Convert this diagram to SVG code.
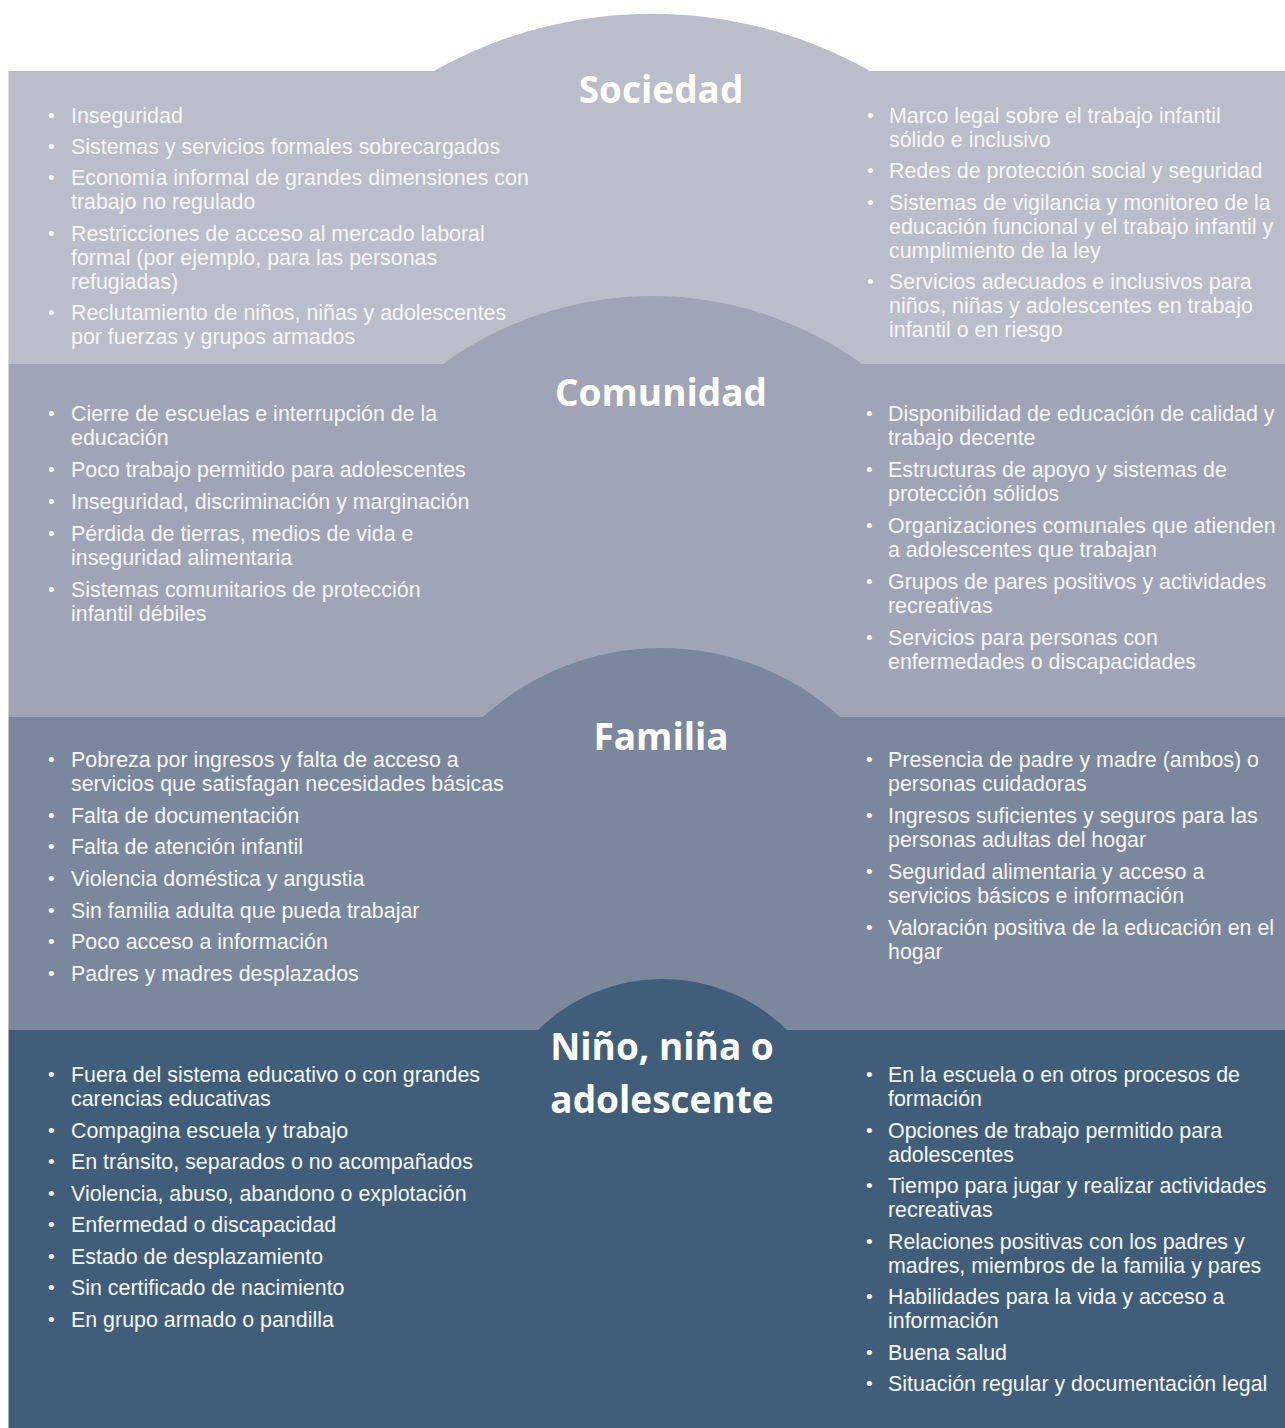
<svg xmlns="http://www.w3.org/2000/svg" width="1285" height="1428" viewBox="0 0 1285 1428">
<style>
.t{font-family:"Liberation Sans",Arial,Helvetica,sans-serif;font-size:21.4px;fill:#f6f7f9}
.b{font-family:"Liberation Sans",Arial,sans-serif;font-size:19px;fill:#f6f7f9}
.h{font-family:"Open Sans","Liberation Sans",sans-serif;font-weight:700;font-size:37px;fill:#ffffff;text-anchor:middle}
</style>
<rect width="1285" height="1428" fill="#ffffff"/>

<g id="sociedad">
<path d="M8.5,71 L434,71 A443.5,443.5 0 0 1 870,71 L1285,71 L1285,364 L8.5,364 Z" fill="#babdca"/>
<text class="h" x="661" y="103">Sociedad</text>
<g class="t">
<text x="71" y="123">Inseguridad</text>
<text x="71" y="154">Sistemas y servicios formales sobrecargados</text>
<text x="71" y="185">Economía informal de grandes dimensiones con</text>
<text x="71" y="209">trabajo no regulado</text>
<text x="71" y="241">Restricciones de acceso al mercado laboral</text>
<text x="71" y="265">formal (por ejemplo, para las personas</text>
<text x="71" y="289">refugiadas)</text>
<text x="71" y="320">Reclutamiento de niños, niñas y adolescentes</text>
<text x="71" y="344">por fuerzas y grupos armados</text>
<text x="889" y="123">Marco legal sobre el trabajo infantil</text>
<text x="889" y="147">sólido e inclusivo</text>
<text x="889" y="178">Redes de protección social y seguridad</text>
<text x="889" y="210">Sistemas de vigilancia y monitoreo de la</text>
<text x="889" y="234">educación funcional y el trabajo infantil y</text>
<text x="889" y="258">cumplimiento de la ley</text>
<text x="889" y="289">Servicios adecuados e inclusivos para</text>
<text x="889" y="313">niños, niñas y adolescentes en trabajo</text>
<text x="889" y="337">infantil o en riesgo</text>
</g>
<g class="b">
<text x="48" y="122">•</text><text x="48" y="153">•</text><text x="48" y="184">•</text><text x="48" y="240">•</text><text x="48" y="319">•</text>
<text x="867" y="122">•</text><text x="867" y="177">•</text><text x="867" y="209">•</text><text x="867" y="288">•</text>
</g>
</g>

<g id="comunidad">
<path d="M8.5,364 L443,364 A356.7,356.7 0 0 1 862,364 L1285,364 L1285,717 L8.5,717 Z" fill="#9fa5b6"/>
<text class="h" x="661" y="406">Comunidad</text>
<g class="t">
<text x="71" y="421">Cierre de escuelas e interrupción de la</text>
<text x="71" y="445">educación</text>
<text x="71" y="477">Poco trabajo permitido para adolescentes</text>
<text x="71" y="509">Inseguridad, discriminación y marginación</text>
<text x="71" y="541">Pérdida de tierras, medios de vida e</text>
<text x="71" y="565">inseguridad alimentaria</text>
<text x="71" y="597">Sistemas comunitarios de protección</text>
<text x="71" y="621">infantil débiles</text>
<text x="888" y="421">Disponibilidad de educación de calidad y</text>
<text x="888" y="445">trabajo decente</text>
<text x="888" y="477">Estructuras de apoyo y sistemas de</text>
<text x="888" y="501">protección sólidos</text>
<text x="888" y="533">Organizaciones comunales que atienden</text>
<text x="888" y="557">a adolescentes que trabajan</text>
<text x="888" y="589">Grupos de pares positivos y actividades</text>
<text x="888" y="613">recreativas</text>
<text x="888" y="645">Servicios para personas con</text>
<text x="888" y="669">enfermedades o discapacidades</text>
</g>
<g class="b">
<text x="48" y="420">•</text><text x="48" y="476">•</text><text x="48" y="508">•</text><text x="48" y="540">•</text><text x="48" y="596">•</text>
<text x="866" y="420">•</text><text x="866" y="476">•</text><text x="866" y="532">•</text><text x="866" y="588">•</text><text x="866" y="644">•</text>
</g>
</g>

<g id="familia">
<path d="M8.5,717 L483,717 A265.4,265.4 0 0 1 840,717 L1285,717 L1285,1030 L8.5,1030 Z" fill="#7a879c"/>
<text class="h" x="661" y="750" font-size="36">Familia</text>
<g class="t">
<text x="71" y="767">Pobreza por ingresos y falta de acceso a</text>
<text x="71" y="791">servicios que satisfagan necesidades básicas</text>
<text x="71" y="823">Falta de documentación</text>
<text x="71" y="854">Falta de atención infantil</text>
<text x="71" y="886">Violencia doméstica y angustia</text>
<text x="71" y="918">Sin familia adulta que pueda trabajar</text>
<text x="71" y="949">Poco acceso a información</text>
<text x="71" y="981">Padres y madres desplazados</text>
<text x="888" y="767">Presencia de padre y madre (ambos) o</text>
<text x="888" y="791">personas cuidadoras</text>
<text x="888" y="823">Ingresos suficientes y seguros para las</text>
<text x="888" y="847">personas adultas del hogar</text>
<text x="888" y="879">Seguridad alimentaria y acceso a</text>
<text x="888" y="903">servicios básicos e información</text>
<text x="888" y="935">Valoración positiva de la educación en el</text>
<text x="888" y="959">hogar</text>
</g>
<g class="b">
<text x="48" y="766">•</text><text x="48" y="822">•</text><text x="48" y="853">•</text><text x="48" y="885">•</text><text x="48" y="917">•</text><text x="48" y="948">•</text><text x="48" y="980">•</text>
<text x="866" y="766">•</text><text x="866" y="822">•</text><text x="866" y="878">•</text><text x="866" y="934">•</text>
</g>
</g>

<g id="nino">
<path d="M8.5,1030 L538,1030 A177.5,177.5 0 0 1 787,1030 L1285,1030 L1285,1428 L8.5,1428 Z" fill="#405e7a"/>
<text class="h" x="662" y="1060">Niño, niña o</text>
<text class="h" x="662" y="1113">adolescente</text>
<g class="t">
<text x="71" y="1082">Fuera del sistema educativo o con grandes</text>
<text x="71" y="1106">carencias educativas</text>
<text x="71" y="1138">Compagina escuela y trabajo</text>
<text x="71" y="1169">En tránsito, separados o no acompañados</text>
<text x="71" y="1201">Violencia, abuso, abandono o explotación</text>
<text x="71" y="1232">Enfermedad o discapacidad</text>
<text x="71" y="1264">Estado de desplazamiento</text>
<text x="71" y="1295">Sin certificado de nacimiento</text>
<text x="71" y="1327">En grupo armado o pandilla</text>
<text x="888" y="1082">En la escuela o en otros procesos de</text>
<text x="888" y="1106">formación</text>
<text x="888" y="1138">Opciones de trabajo permitido para</text>
<text x="888" y="1162">adolescentes</text>
<text x="888" y="1193">Tiempo para jugar y realizar actividades</text>
<text x="888" y="1217">recreativas</text>
<text x="888" y="1249">Relaciones positivas con los padres y</text>
<text x="888" y="1273">madres, miembros de la familia y pares</text>
<text x="888" y="1304">Habilidades para la vida y acceso a</text>
<text x="888" y="1328">información</text>
<text x="888" y="1360">Buena salud</text>
<text x="888" y="1391">Situación regular y documentación legal</text>
</g>
<g class="b">
<text x="48" y="1081">•</text><text x="48" y="1137">•</text><text x="48" y="1168">•</text><text x="48" y="1200">•</text><text x="48" y="1231">•</text><text x="48" y="1263">•</text><text x="48" y="1294">•</text><text x="48" y="1326">•</text>
<text x="866" y="1081">•</text><text x="866" y="1137">•</text><text x="866" y="1192">•</text><text x="866" y="1248">•</text><text x="866" y="1303">•</text><text x="866" y="1359">•</text><text x="866" y="1390">•</text>
</g>
</g>
</svg>
